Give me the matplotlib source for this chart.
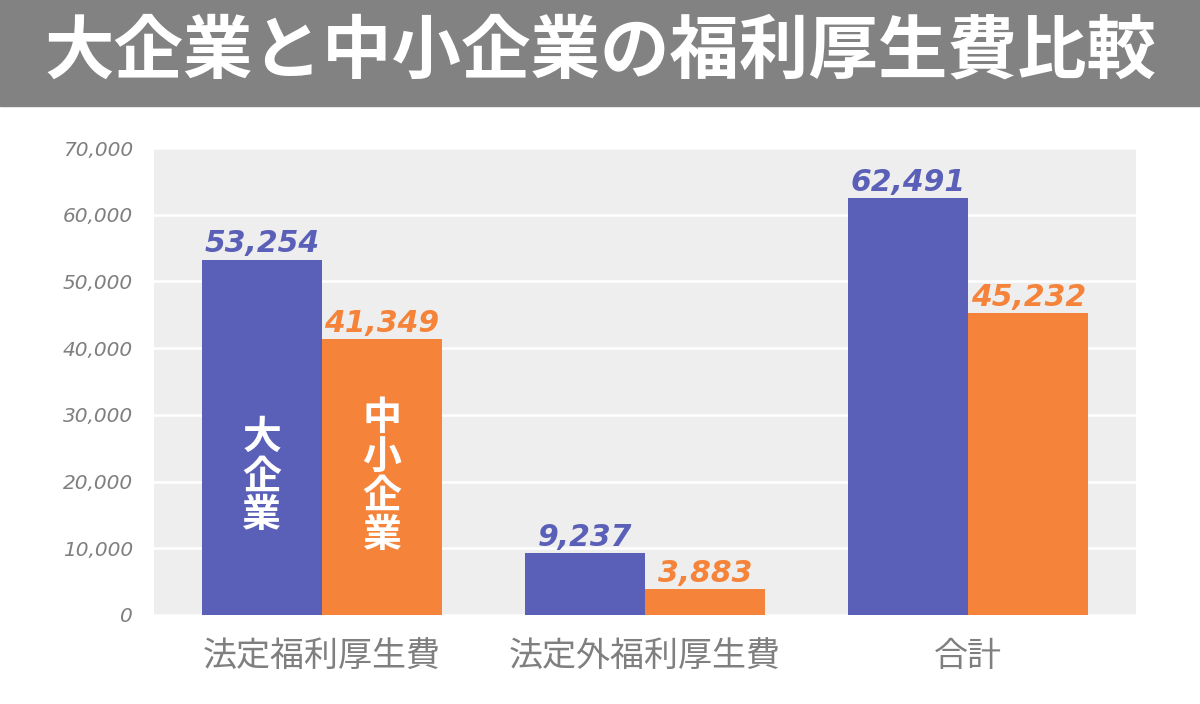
import numpy as np
import matplotlib.pyplot as plt
from matplotlib.patches import Rectangle

plt.rcParams['font.family'] = ['Noto Sans CJK JP', 'DejaVu Sans']

# data
categories = ["法定福利厚生費", "法定外福利厚生費", "合計"]
large = [53254, 9237, 62491]
small = [41349, 3883, 45232]
series_names = ["大企業", "中小企業"]
yticks = [0, 10000, 20000, 30000, 40000, 50000, 60000, 70000]

blue = "#5A5FB8"
orange = "#F5843A"
grey_txt = "#7F7F7F"

fig = plt.figure(figsize=(12, 7.04), dpi=100)

# title banner
fig.patches.append(Rectangle((0, 1 - 106/704), 1, 106/704, transform=fig.transFigure,
                             color="#828282", zorder=0))
fig.text(0.5, 1 - 52/704, "大企業と中小企業の福利厚生費比較", ha="center", va="center",
         color="white", fontsize=50, fontweight="bold")

ax = fig.add_axes([154/1200, (704-615)/704, 982/1200, 467/704])
ax.set_facecolor("#EEEEEE")

x = np.arange(len(categories))
w = 0.372
b1 = ax.bar(x - w/2, large, w, color=blue, zorder=2)
b2 = ax.bar(x + w/2, small, w, color=orange, zorder=2)

for bars, vals, c in [(b1, large, blue), (b2, small, orange)]:
    for r, v in zip(bars, vals):
        ax.annotate(f"{v:,}", (r.get_x() + r.get_width()/2, v), xytext=(0, 1),
                    textcoords="offset points", ha="center", va="bottom",
                    color=c, fontsize=21.5, fontweight="bold", style="italic",
                    family="DejaVu Sans", zorder=3)

# series names written inside the first group of bars
ax.text(x[0] - w/2, 20700, "\n".join(series_names[0]), ha="center", va="center",
        color="white", fontsize=28, fontweight="bold", linespacing=1.0, zorder=3)
ax.text(x[0] + w/2, 20700, "\n".join(series_names[1]), ha="center", va="center",
        color="white", fontsize=28, fontweight="bold", linespacing=1.0, zorder=3)

ax.set_xlim(-0.52, 2.52)
ax.set_ylim(0, 70000)
ax.set_yticks(yticks)
ax.set_yticklabels([f"{t:,}" for t in yticks], family="DejaVu Sans", style="italic",
                   fontsize=14.5, color=grey_txt)
ax.set_xticks(x)
ax.set_xticklabels(categories, fontsize=24.5, color=grey_txt)
ax.tick_params(length=0)
ax.tick_params(axis="y", pad=15)
ax.tick_params(axis="x", pad=17)
ax.grid(axis="y", color="white", linewidth=1.8, zorder=1)
ax.set_axisbelow(True)
for s in ax.spines.values():
    s.set_visible(False)

fig.savefig("out.png", dpi=100, facecolor="white")
